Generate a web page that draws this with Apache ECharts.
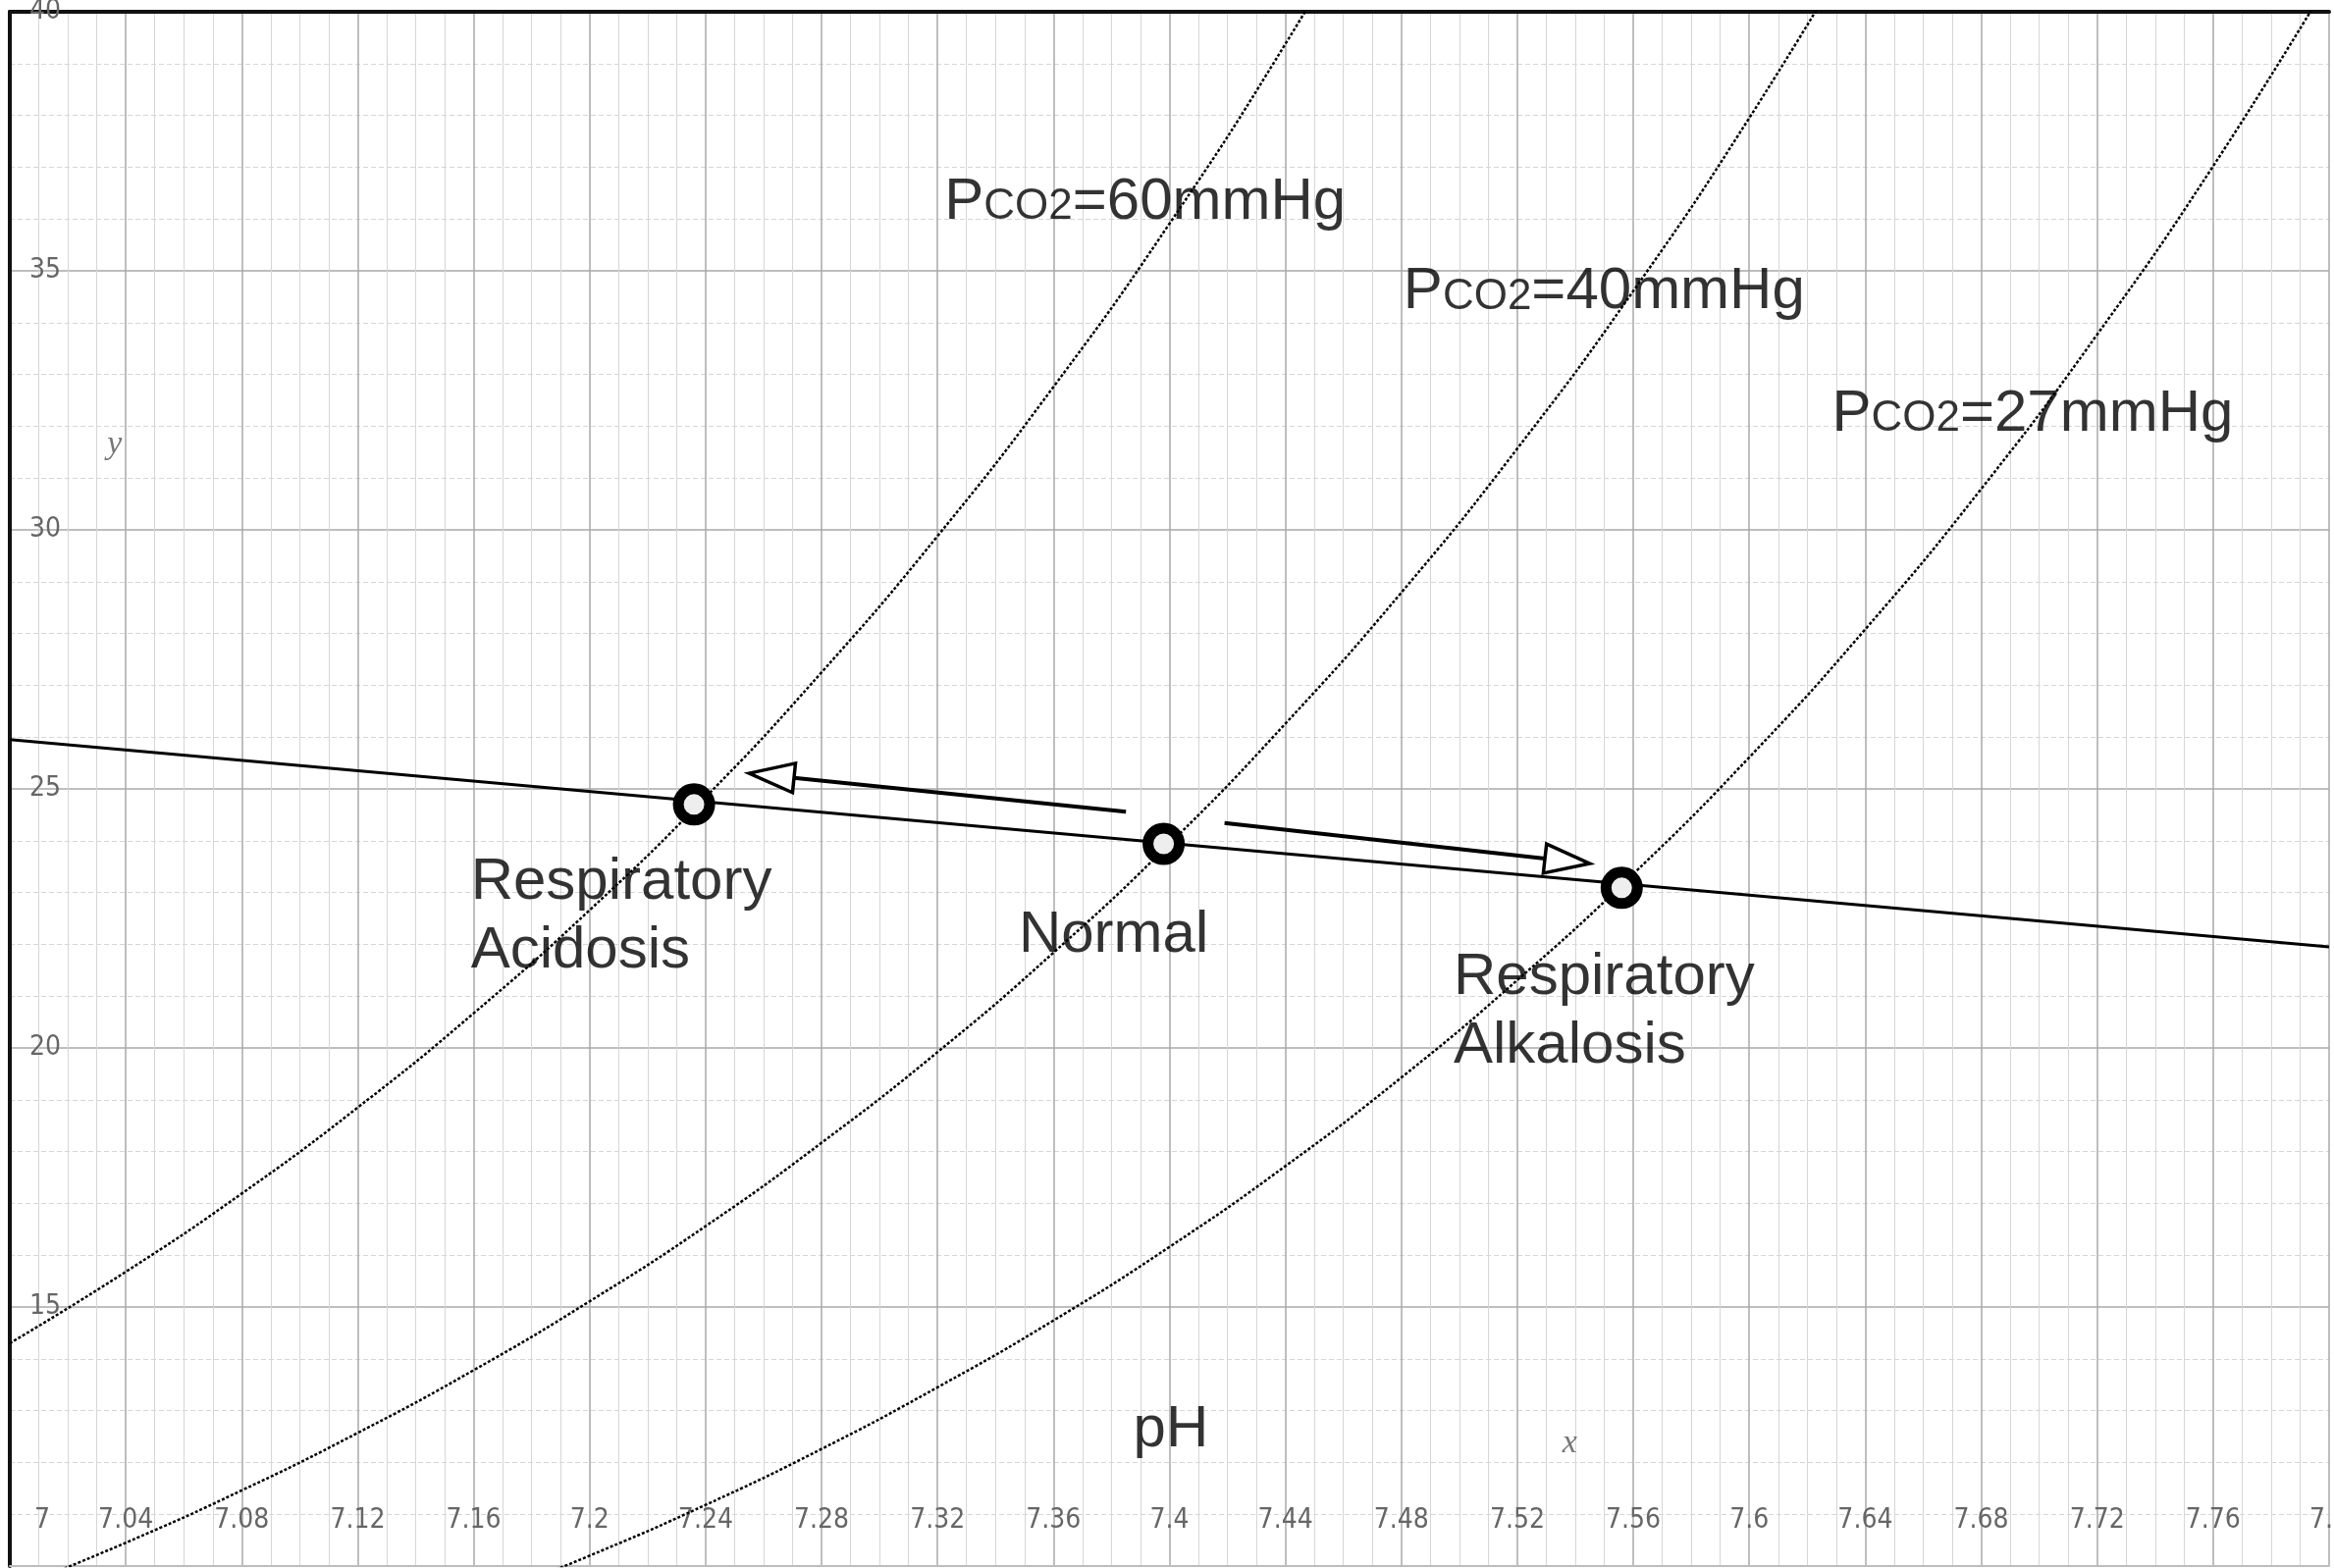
<!DOCTYPE html>
<html><head><meta charset="utf-8">
<script src="https://cdn.jsdelivr.net/npm/echarts@6/dist/echarts.min.js"></script>
<style>html,body{margin:0;padding:0;background:#fff;overflow:hidden}#c{width:2378px;height:1598px;position:absolute;left:0;top:0}</style>
</head><body><div id="c"></div>
<script>
// ---- data ----
const pH60   = [7.00, 7.04, 7.08, 7.12, 7.16, 7.20, 7.24, 7.28, 7.32, 7.36, 7.40, 7.44, 7.48];
const hco3_60 = [14.30, 15.68, 17.19, 18.85, 20.67, 22.66, 24.84, 27.25, 29.88, 32.76, 35.91, 39.38, 43.18];
const pH40   = [7.00, 7.04, 7.08, 7.12, 7.16, 7.20, 7.24, 7.28, 7.32, 7.36, 7.40, 7.44, 7.48, 7.52, 7.56, 7.60, 7.64];
const hco3_40 = [9.53, 10.45, 11.46, 12.57, 13.78, 15.11, 16.56, 18.17, 19.92, 21.84, 23.94, 26.26, 28.79, 31.57, 34.61, 37.95, 41.61];
const pH27   = [7.16, 7.20, 7.24, 7.28, 7.32, 7.36, 7.40, 7.44, 7.48, 7.52, 7.56, 7.60, 7.64, 7.68, 7.72, 7.76, 7.80];
const hco3_27 = [9.30, 10.20, 11.18, 12.26, 13.45, 14.74, 16.16, 17.72, 19.43, 21.31, 23.36, 25.61, 28.08, 30.79, 33.77, 37.02, 40.60];

const bufferPH   = [7.00, 7.40, 7.80];
const bufferHCO3 = [25.95, 23.95, 21.95];

const pointNames = ['Respiratory Acidosis', 'Normal', 'Respiratory Alkalosis'];
const pointPH    = [7.236, 7.398, 7.556];
const pointHCO3  = [24.70, 23.94, 23.09];

const arrowFromPH   = [7.385, 7.419];
const arrowFromHCO3 = [24.56, 24.34];
const arrowToPH     = [7.255, 7.545];
const arrowToHCO3   = [25.30, 23.56];

const curveLabels = ['Pco2=60mmHg', 'Pco2=40mmHg', 'Pco2=27mmHg'];
const curvePCO2   = ['60', '40', '27'];

const xMin = 7, xMax = 7.8, xStep = 0.04;
const yMin = 10, yMax = 40, yStep = 5;

// ---- build ----
const zip = (a, b) => a.map((v, i) => [v, b[i]]);
const TICK_FONT = '"Liberation Sans Narrow", "DejaVu Sans Condensed", "Liberation Sans", sans-serif';
const TXT_FONT = '"Liberation Sans", Arial, sans-serif';

const curveStyle = { color: '#000', width: 2.5, type: [3, 2] };

const annotations = [
  { value: [7.3224, 36.42], text: '{p|P}{s|CO2}{p|=' + curvePCO2[0] + 'mmHg}' },
  { value: [7.4807, 34.68], text: '{p|P}{s|CO2}{p|=' + curvePCO2[1] + 'mmHg}' },
  { value: [7.6285, 32.33], text: '{p|P}{s|CO2}{p|=' + curvePCO2[2] + 'mmHg}' },
  { value: [7.159, 22.63], text: '{p|Respiratory}\n{p|Acidosis}' },
  { value: [7.348, 22.27], text: '{p|Normal}' },
  { value: [7.498, 20.78], text: '{p|Respiratory}\n{p|Alkalosis}' },
  { value: [7.3875, 12.71], text: '{p|pH}' },
  { value: [7.0336, 31.65], text: '{i|y}' },
  { value: [7.5355, 12.37], text: '{i|x}' }
];

const tickLabel = { color: '#666', fontSize: 28, fontFamily: TICK_FONT };

const chart = echarts.init(document.getElementById('c'), null, { renderer: 'canvas', width: 2378, height: 1598 });
chart.setOption({
  animation: false,
  backgroundColor: '#ffffff',
  grid: { left: 10, right: 5, top: 12, bottom: 2, containLabel: false, outerBoundsMode: 'none' },
  xAxis: [{
    type: 'value', min: xMin, max: xMax, interval: xStep, position: 'bottom',
    axisLine: { show: true, lineStyle: { color: '#bdbdbd', width: 2 } },
    axisTick: { show: false },
    axisLabel: Object.assign({ inside: true, margin: 32, showMinLabel: true, showMaxLabel: true,
      formatter: function (v) { return v === xMin ? '{f|' + v + '}' : String(v); },
      rich: { f: Object.assign({ padding: [0, 0, 0, 66] }, tickLabel) } }, tickLabel),
    splitLine: { show: true, lineStyle: { color: '#a9a9a9', width: 1.5 } },
    minorTick: { show: false, splitNumber: 4 },
    minorSplitLine: { show: true, lineStyle: { color: '#d6d6d6', width: 1 } }
  }, {
    type: 'value', min: xMin, max: xMax, position: 'top',
    axisLine: { show: true, lineStyle: { color: '#111', width: 4 } },
    axisTick: { show: false }, axisLabel: { show: false }, splitLine: { show: false }
  }],
  yAxis: {
    type: 'value', min: yMin, max: yMax, interval: yStep,
    axisLine: { show: true, lineStyle: { color: '#111', width: 4 } },
    axisTick: { show: false },
    axisLabel: Object.assign({ inside: true, margin: 20, showMinLabel: false, showMaxLabel: true }, tickLabel),
    splitLine: { show: true, lineStyle: { color: '#a9a9a9', width: 1.5 } },
    minorTick: { show: false, splitNumber: 5 },
    minorSplitLine: { show: true, lineStyle: { color: '#d6d6d6', width: 1, type: [5, 3] } }
  },
  series: [
    { name: curveLabels[0], type: 'line', data: zip(pH60, hco3_60), smooth: true, showSymbol: false, symbol: 'none', lineStyle: curveStyle, z: 3 },
    { name: curveLabels[1], type: 'line', data: zip(pH40, hco3_40), smooth: true, showSymbol: false, symbol: 'none', lineStyle: curveStyle, z: 3 },
    { name: curveLabels[2], type: 'line', data: zip(pH27, hco3_27), smooth: true, showSymbol: false, symbol: 'none', lineStyle: curveStyle, z: 3 },
    { name: 'buffer', type: 'line', data: zip(bufferPH, bufferHCO3), showSymbol: false, symbol: 'none',
      lineStyle: { color: '#000', width: 3 }, z: 4 },
    { name: 'arrows', type: 'custom', z: 5,
      data: arrowFromPH.map((v, i) => [v, arrowFromHCO3[i], arrowToPH[i], arrowToHCO3[i]]),
      encode: { x: [0, 2], y: [1, 3] },
      renderItem: function (params, api) {
        const s = api.coord([api.value(0), api.value(1)]);
        const e = api.coord([api.value(2), api.value(3)]);
        const dx = e[0] - s[0], dy = e[1] - s[1];
        const L = Math.hypot(dx, dy), ux = dx / L, uy = dy / L;
        const hl = 46, hw = 15;
        const b = [e[0] - ux * hl, e[1] - uy * hl];
        const p1 = [b[0] - uy * hw, b[1] + ux * hw];
        const p2 = [b[0] + uy * hw, b[1] - ux * hw];
        return { type: 'group', children: [
          { type: 'line', shape: { x1: s[0], y1: s[1], x2: b[0], y2: b[1] }, style: { stroke: '#000', lineWidth: 4 } },
          { type: 'polygon', shape: { points: [e, p1, p2] }, style: { fill: '#fff', stroke: '#000', lineWidth: 3.5 } }
        ] };
      }
    },
    { name: 'points', type: 'scatter', z: 6, data: zip(pointPH, pointHCO3),
      symbol: 'circle', symbolSize: 32,
      itemStyle: { color: '#eeeeee', borderColor: '#000', borderWidth: 11, opacity: 1 } },
    { name: 'annotations', type: 'scatter', z: 7, symbolSize: 0, silent: true,
      itemStyle: { color: 'transparent' },
      data: annotations.map(a => ({ value: a.value, label: { formatter: a.text } })),
      label: { show: true, position: 'right', distance: 0, align: 'left', verticalAlign: 'middle',
        lineHeight: 70,
        rich: {
          p: { fontSize: 60, fontFamily: TXT_FONT, color: '#000', lineHeight: 70, verticalAlign: 'bottom' },
          s: { fontSize: 44, fontFamily: TXT_FONT, color: '#000', lineHeight: 70, verticalAlign: 'bottom', padding: [0, 0, 3, 0] },
          i: { fontSize: 34, fontFamily: '"Liberation Serif", "DejaVu Serif", serif', fontStyle: 'italic', color: '#555' }
        } } }
  ]
});
</script></body></html>
